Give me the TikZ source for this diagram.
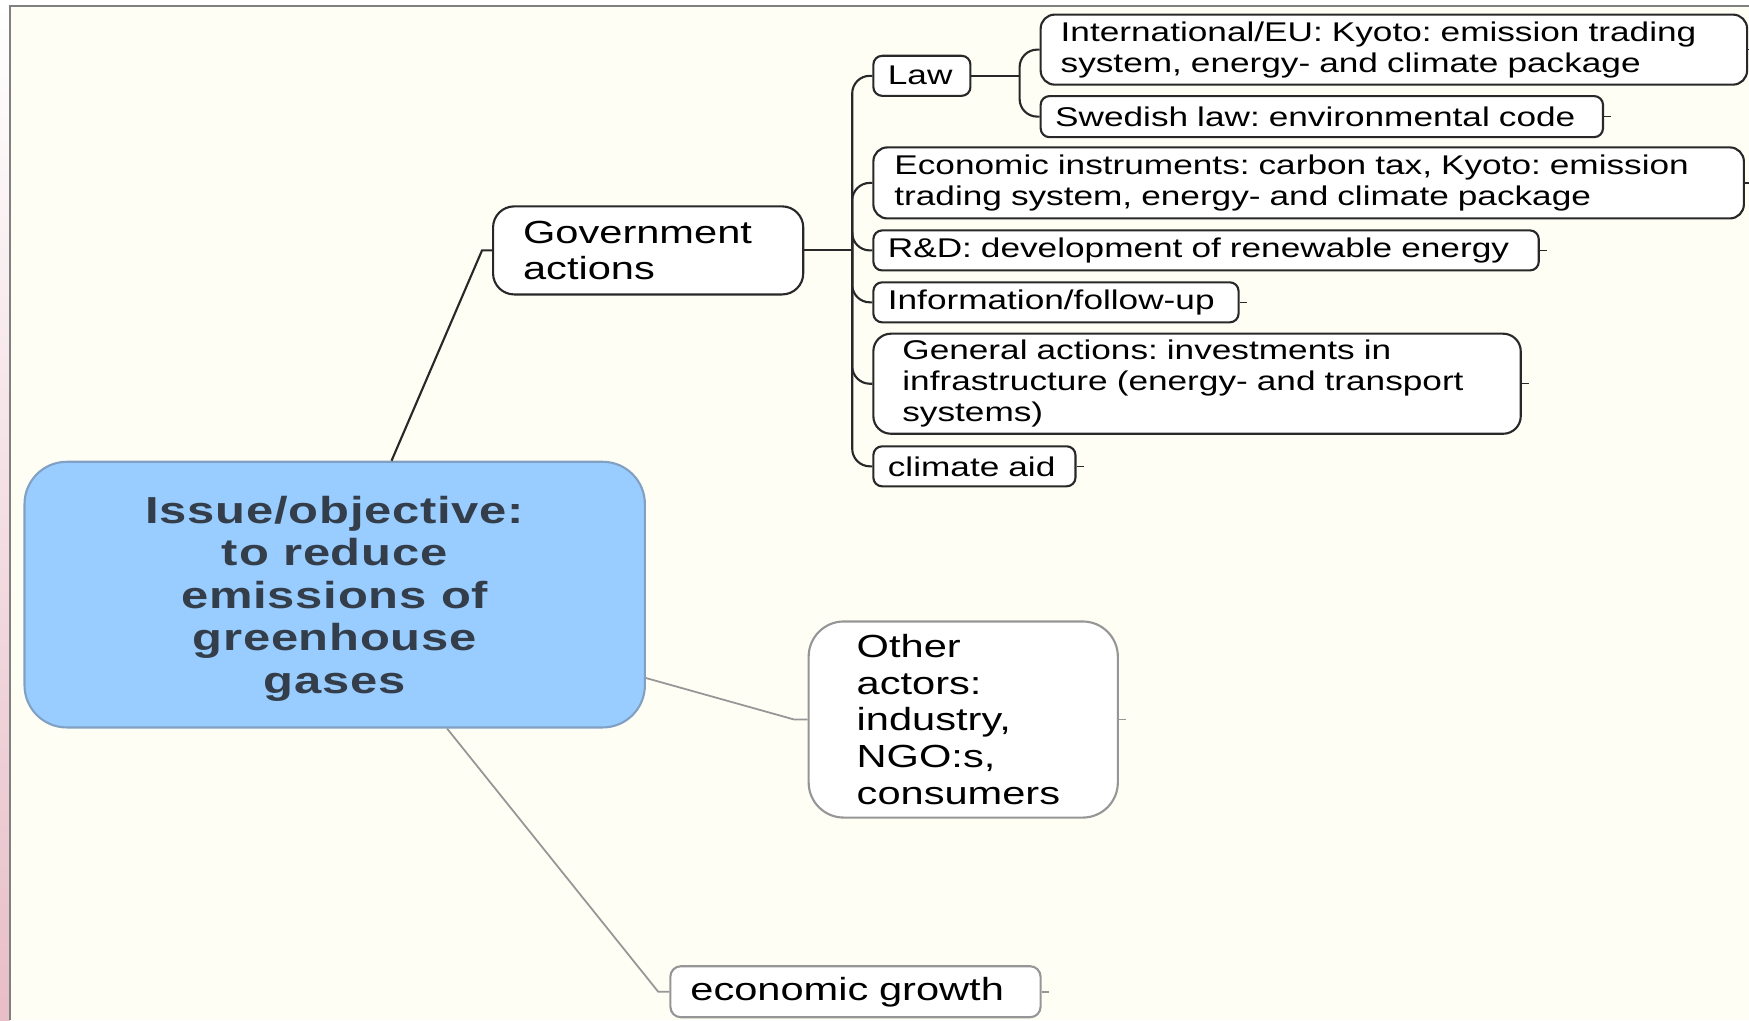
\documentclass[tikz,border=0pt]{standalone}
\usepackage{fontspec}
\setmainfont[FakeStretch=1.3, BoldFeatures={LetterSpace=2.0}]{Liberation Sans}
\frenchspacing

\definecolor{paper}{RGB}{254,254,245}
\definecolor{rim}{RGB}{232,190,200}
\definecolor{issueblue}{RGB}{153,204,255}
\definecolor{issueedge}{RGB}{130,160,195}
\definecolor{issuetext}{RGB}{52,62,74}
\definecolor{inkgray}{RGB}{40,40,40}
\definecolor{faint}{RGB}{150,150,150}

\newcommand{\leaffont}{\fontsize{7.7}{8.8}\selectfont}
\newcommand{\midfont}{\fontsize{9.1}{10.45}\selectfont}
\newcommand{\bigfont}{\fontsize{10.7}{12.1}\selectfont\bfseries}

\begin{document}
\begin{tikzpicture}[x=0.01cm,y=-0.01cm,
    leaf/.style={draw=inkgray, fill=white, line width=0.6pt, rounded corners=2.5pt,
        anchor=west, align=left, inner ysep=0pt, minimum height=0.4cm,
        inner xsep=0.145cm, font=\leaffont, text=black},
    branch/.style={leaf, font=\midfont, rounded corners=6pt},
    issue/.style={draw=issueedge, fill=issueblue, line width=0.6pt, rounded corners=12pt,
        minimum width=6.2cm, minimum height=2.655cm, align=center,
        font=\bigfont, text=issuetext},
    twig/.style={draw=inkgray, line width=0.6pt},
    thin/.style={draw=faint, line width=0.5pt}]
    \useasboundingbox (0,0) rectangle (1749,1020);

    % page: pale rim on the left, cream sheet with a grey edge
    \fill[white] (0,0) rectangle (1749,1020);
    \shade[top color=white, bottom color=rim] (0,6) rectangle (10,1020);
    \fill[paper] (10,6) rectangle (1749,1020);
    \draw[gray, line width=0.8pt] (10,1020) -- (10,6) -- (1749,6);

    % centre and the three main branches
    \node[issue] (issue) at (334.7,594.6)
        {\rule{0pt}{10pt}Issue/objective:\\to reduce\\emissions of\\greenhouse\\gases};
    \node[branch, inner xsep=0.30cm, text width=2.5cm, minimum height=0.88cm] (gov)
        at (492,250.4) {Government\\actions};
    \node[branch, draw=faint, inner xsep=0.48cm, text width=2.13cm, minimum height=1.96cm,
        rounded corners=10pt] (others) at (807.6,719.5)
        {Other\\actors:\\industry,\\NGO:s,\\consumers};
    \node[branch, draw=faint, inner xsep=0.20cm, text width=3.3cm, minimum height=0.51cm,
        rounded corners=3pt] (growth) at (669.3,991.7) {economic growth};

    \coordinate (G) at (482,250.4);
    \coordinate (O) at (794.2,719.5);
    \coordinate (E) at (658.2,991.7);
    \draw[twig] (issue.67) -- (G) -- (gov.west);
    \draw[thin] (issue.-15) -- (O) -- (others.west);
    \draw[thin] (issue.-50.5) -- (E) -- (growth.west);

    % government actions
    \node[leaf, text width=0.68cm] (law) at (872.3,75.8) {Law};
    \node[leaf, inner xsep=0.20cm, text width=6.66cm, minimum height=0.70cm,
        rounded corners=4pt] (intl) at (1039.6,49.6)
        {International/EU: Kyoto: emission trading\\system, energy- and climate package};
    \node[leaf, text width=5.33cm, minimum height=0.41cm] (swed) at (1039.6,116.6)
        {Swedish law: environmental code};
    \node[leaf, inner xsep=0.21cm, text width=8.28cm, minimum height=0.71cm,
        rounded corners=4pt] (instr) at (872.3,182.9)
        {Economic instruments: carbon tax, Kyoto: emission\\trading system, energy- and climate package};
    \node[leaf, text width=6.36cm] (rnd) at (872.3,250.4)
        {R\&D: development of renewable energy};
    \node[leaf, text width=3.36cm] (info) at (872.3,302.3) {Information/follow-up};
    \node[leaf, inner xsep=0.29cm, text width=5.89cm, minimum height=1.0cm,
        rounded corners=5pt] (general) at (872.3,383.7)
        {General actions: investments in\\infrastructure (energy- and transport\\systems)};
    \node[leaf, text width=1.73cm] (aid) at (872.3,466.3) {climate aid};

    \coordinate (T) at (852.2,250.4);
    \draw[twig] (gov.east) -- (T);
    \foreach \n in {law,instr,rnd,info,general,aid}
        \draw[twig, rounded corners=5pt] (T) |- (\n.west);

    \coordinate (L) at (1019.6,75.8);
    \draw[twig] (law.east) -- (L);
    \foreach \n in {intl,swed}
        \draw[twig, rounded corners=5pt] (L) |- (\n.west);

    % little stubs where nothing hangs yet
    \foreach \n in {intl,swed,instr,rnd,info,general,aid}
        \draw[twig, line width=0.4pt] (\n.east) -- ++(7,0);
    \foreach \n in {others,growth}
        \draw[thin] (\n.east) -- ++(7,0);
\end{tikzpicture}
\end{document}
